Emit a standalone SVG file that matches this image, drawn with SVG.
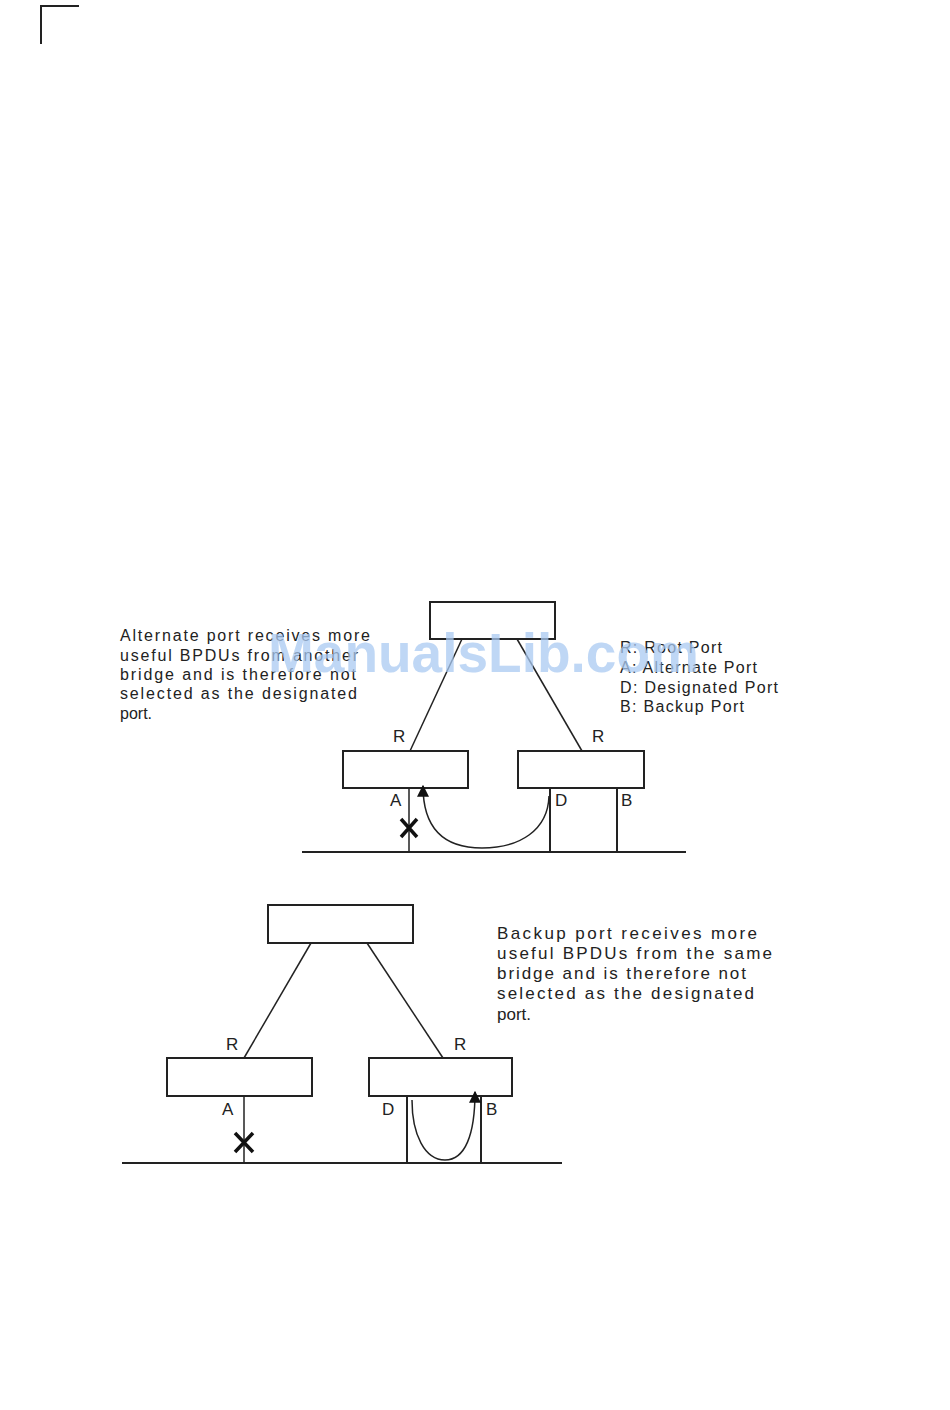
<svg xmlns="http://www.w3.org/2000/svg" width="950" height="1410" viewBox="0 0 950 1410">
<defs>
<style>
.box{fill:#fff;stroke:#222;stroke-width:2}
.ln{stroke:#222;stroke-width:1.5;fill:none}
.gl{stroke:#222;stroke-width:2;fill:none}
.t{font-family:"Liberation Sans",Arial,sans-serif;font-size:16px;fill:#222}
.lb{font-family:"Liberation Sans",Arial,sans-serif;font-size:17px;fill:#222}
.x{stroke:#111;stroke-width:3.5}
</style>
<marker id="ah" viewBox="0 0 10 10" refX="9" refY="5" markerWidth="12" markerHeight="12" markerUnits="userSpaceOnUse" orient="auto">
<path d="M0,0 L10,5 L0,10 Z" fill="#111"/>
</marker>
</defs>
<rect width="950" height="1410" fill="#fff"/>
<path d="M41,44 V6 H79" class="gl"/>

<g id="top-diagram">
<g id="root1"><rect class="box" x="430" y="602" width="125" height="37"/></g>
<g id="bridgeL1"><rect class="box" x="343" y="751" width="125" height="37"/></g>
<g id="bridgeR1"><rect class="box" x="518" y="751" width="126" height="37"/></g>
<g id="connectors1">
<line class="ln" x1="462" y1="639" x2="410" y2="751"/>
<line class="ln" x1="517" y1="639" x2="582" y2="751"/>
<line class="gl" x1="302" y1="852" x2="686" y2="852"/>
<line class="ln" x1="409" y1="788" x2="409" y2="852"/>
<line class="gl" x1="550" y1="788" x2="550" y2="852"/>
<line class="gl" x1="617" y1="788" x2="617" y2="852"/>
<path class="ln" d="M549,796 C548,830 520,848 482,848 C440,848 423,825 423,786" marker-end="url(#ah)"/>
<path class="x" d="M401,819 L417,837 M417,819 L401,837"/>
</g>
<text class="lb" x="393" y="742">R</text>
<text class="lb" x="592" y="742">R</text>
<text class="lb" x="390" y="806">A</text>
<text class="lb" x="555" y="806">D</text>
<text class="lb" x="621" y="806">B</text>
<g class="t">
<text x="120" y="641" textLength="250" lengthAdjust="spacing">Alternate port receives more</text>
<text x="120" y="661" textLength="238" lengthAdjust="spacing">useful BPDUs from another</text>
<text x="120" y="680" textLength="236" lengthAdjust="spacing">bridge and is therefore not</text>
<text x="120" y="699" textLength="237" lengthAdjust="spacing">selected as the designated</text>
<text x="120" y="719">port.</text>
</g>
<g class="t">
<text x="620" y="653" textLength="102" lengthAdjust="spacing">R: Root Port</text>
<text x="620" y="673" textLength="137" lengthAdjust="spacing">A: Alternate Port</text>
<text x="620" y="693" textLength="158" lengthAdjust="spacing">D: Designated Port</text>
<text x="620" y="712" textLength="124" lengthAdjust="spacing">B: Backup Port</text>
</g>
</g>

<g id="bottom-diagram">
<g id="root2"><rect class="box" x="268" y="905" width="145" height="38"/></g>
<g id="bridgeL2"><rect class="box" x="167" y="1058" width="145" height="38"/></g>
<g id="bridgeR2"><rect class="box" x="369" y="1058" width="143" height="38"/></g>
<g id="connectors2">
<line class="ln" x1="311" y1="943" x2="244" y2="1058"/>
<line class="ln" x1="367" y1="943" x2="443" y2="1058"/>
<line class="gl" x1="122" y1="1163" x2="562" y2="1163"/>
<line class="ln" x1="244" y1="1096" x2="244" y2="1163"/>
<line class="gl" x1="407" y1="1096" x2="407" y2="1163"/>
<line class="gl" x1="481" y1="1096" x2="481" y2="1163"/>
<path class="ln" d="M412,1100 C412,1135 425,1160 445,1160 C465,1160 475,1135 475,1092" marker-end="url(#ah)"/>
<path class="x" d="M235,1133 L253,1152 M253,1133 L235,1152"/>
</g>
<text class="lb" x="226" y="1050">R</text>
<text class="lb" x="454" y="1050">R</text>
<text class="lb" x="222" y="1115">A</text>
<text class="lb" x="382" y="1115">D</text>
<text class="lb" x="486" y="1115">B</text>
<g class="lb">
<text x="497" y="939" textLength="260" lengthAdjust="spacing">Backup  port receives more</text>
<text x="497" y="959" textLength="275" lengthAdjust="spacing">useful BPDUs from the same</text>
<text x="497" y="979" textLength="249" lengthAdjust="spacing">bridge and is therefore not</text>
<text x="497" y="999" textLength="257" lengthAdjust="spacing">selected as the designated</text>
<text x="497" y="1020">port.</text>
</g>
</g>

<text x="268" y="672" font-family="Liberation Sans,Arial,sans-serif" font-weight="bold" font-size="55" fill="#a9c9f2" fill-opacity="0.75">ManualsLib.com</text>
</svg>
